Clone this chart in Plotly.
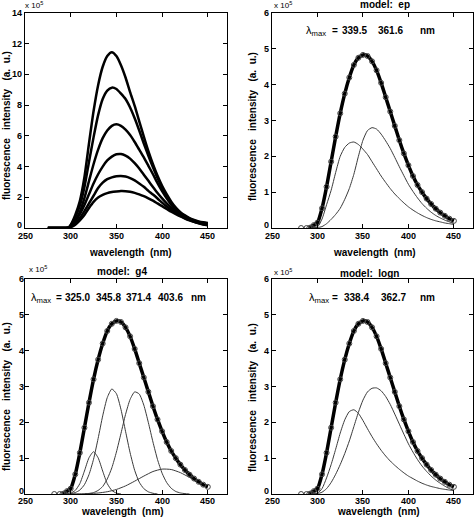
import plotly.graph_objects as go

W, H = 474, 522
FONT = "Liberation Sans, Arial, sans-serif"

# ---------------- Panel 1: six emission spectra ----------------
wl_p1 = [275, 280, 285, 290, 295, 298, 300, 305, 310, 315, 320, 325, 330, 335, 340, 345,
         350, 355, 360, 365, 370, 375, 380, 385, 390, 395, 400, 405, 410, 415, 420, 425,
         430, 435, 440, 445, 450]
spec1 = [0, 0, 0, 0, 0, 0.05, 0.2,
         0.85, 1.75, 3.3, 5.5, 7.6, 9.3, 10.5, 11.2, 11.45, 11.2,
         10.6, 9.8, 8.85, 7.95, 6.95, 5.95, 5.0, 4.15, 3.4, 2.75,
         2.2, 1.72, 1.33, 1.03, 0.82, 0.65, 0.52, 0.43, 0.37, 0.33]
spec2 = [0, 0, 0, 0, 0, 0.04, 0.18,
         0.7, 1.45, 2.65, 4.3, 5.9, 7.35, 8.4, 8.95, 9.14, 9.05,
         8.75, 8.4, 7.85, 7.15, 6.35, 5.5, 4.7, 3.95, 3.25, 2.62,
         2.08, 1.63, 1.26, 0.98, 0.77, 0.61, 0.49, 0.4, 0.34, 0.3]
spec3 = [0, 0, 0, 0, 0, 0.03, 0.12,
         0.5, 1.05, 1.95, 3.05, 4.15, 5.1, 5.85, 6.35, 6.65, 6.75,
         6.65, 6.4, 6.05, 5.6, 5.1, 4.6, 4.05, 3.5, 2.92, 2.4,
         1.93, 1.52, 1.19, 0.93, 0.73, 0.57, 0.45, 0.37, 0.31, 0.26]
spec4 = [0, 0, 0, 0, 0, 0.02, 0.1,
         0.45, 0.9, 1.5, 2.2, 2.9, 3.5, 4.0, 4.4, 4.65, 4.8,
         4.82, 4.72, 4.52, 4.22, 3.87, 3.47, 3.07, 2.67, 2.28, 1.93,
         1.61, 1.33, 1.09, 0.88, 0.7, 0.56, 0.44, 0.35, 0.28, 0.22]
spec5 = [0, 0, 0, 0, 0, 0.01, 0.07,
         0.3, 0.65, 1.1, 1.6, 2.1, 2.6, 2.95, 3.18, 3.3, 3.37,
         3.39, 3.35, 3.25, 3.1, 2.9, 2.68, 2.42, 2.18, 1.92, 1.65,
         1.4, 1.18, 0.98, 0.8, 0.65, 0.52, 0.41, 0.32, 0.25, 0.19]
spec6 = [0, 0, 0, 0, 0, 0.01, 0.05,
         0.22, 0.5, 0.85, 1.3, 1.7, 1.98, 2.15, 2.27, 2.34, 2.38,
         2.41, 2.4, 2.36, 2.29, 2.19, 2.07, 1.93, 1.78, 1.6, 1.42,
         1.24, 1.06, 0.9, 0.75, 0.62, 0.5, 0.4, 0.31, 0.23, 0.17]
spectra_p1 = [spec1, spec2, spec3, spec4, spec5, spec6]

# ---------------- Measured spectrum (panels 2-4) ----------------
wl_data = [282, 288, 291, 293, 296, 300, 305, 310, 315, 320, 325, 330, 335, 340, 345, 350,
           355, 360, 365, 370, 375, 380, 385, 390, 395, 400, 405, 410, 415, 420, 425, 430,
           435, 440, 445, 450]
data = [0, 0, 0, 0.02, 0.08, 0.15,
        0.55, 1.15, 1.85, 2.55, 3.2, 3.75, 4.2, 4.55, 4.75, 4.83,
        4.8, 4.65, 4.4, 4.05, 3.65, 3.25, 2.85, 2.45, 2.08, 1.75,
        1.45, 1.2, 1.0, 0.82, 0.67, 0.54, 0.43, 0.34, 0.26, 0.2]

# ---------------- Components ----------------
wl_c = [295, 300, 305, 310, 315, 320, 325, 330, 335, 340, 345, 350, 355, 360, 365, 370,
        375, 380, 385, 390, 395, 400, 405, 410, 415, 420, 425, 430, 435, 440, 445, 450]
ep_1 = [0, 0.03, 0.25, 0.65, 1.05, 1.55, 2.0, 2.25, 2.37, 2.4, 2.33, 2.2,
        2.05, 1.85, 1.65, 1.45, 1.27, 1.1, 0.95, 0.82, 0.7, 0.59,
        0.5, 0.42, 0.35, 0.29, 0.24, 0.2, 0.17, 0.14, 0.12, 0.1]
ep_2 = [0, 0.01, 0.04, 0.12, 0.24, 0.38, 0.55, 0.8, 1.1, 1.5, 2.0, 2.45,
        2.72, 2.8, 2.76, 2.62, 2.43, 2.22, 1.97, 1.71, 1.46, 1.22,
        1.02, 0.84, 0.68, 0.55, 0.44, 0.35, 0.28, 0.22, 0.17, 0.13]
logn_1 = [0, 0.02, 0.15, 0.45, 0.82, 1.25, 1.7, 2.07, 2.3, 2.35, 2.25, 2.05,
          1.82, 1.6, 1.4, 1.22, 1.06, 0.92, 0.8, 0.69, 0.59, 0.5,
          0.43, 0.36, 0.3, 0.25, 0.21, 0.18, 0.15, 0.13, 0.11, 0.1]
logn_2 = [0, 0.01, 0.05, 0.15, 0.32, 0.55, 0.82, 1.13, 1.48, 1.88, 2.28, 2.62,
          2.85, 2.95, 2.96, 2.88, 2.72, 2.5, 2.23, 1.95, 1.67, 1.4,
          1.17, 0.96, 0.78, 0.63, 0.5, 0.39, 0.3, 0.22, 0.15, 0.1]

wl_g1 = [295, 300, 305, 310, 315, 320, 325, 330, 335, 340, 345, 350, 355]
g4_1 = [0, 0.025, 0.10, 0.29, 0.64, 1.01, 1.18, 1.01, 0.64, 0.29, 0.10, 0.025, 0]
wl_g2 = [300, 305, 310, 315, 320, 325, 330, 335, 340, 345, 350, 355, 360, 365, 370,
         375, 380, 385, 390, 395]
g4_2 = [0.01, 0.04, 0.11, 0.26, 0.54, 0.97, 1.55, 2.18, 2.69, 2.93, 2.80, 2.36, 1.75,
        1.15, 0.66, 0.33, 0.15, 0.06, 0.02, 0.0]
wl_g3 = [315, 320, 325, 330, 335, 340, 345, 350, 355, 360, 365, 370, 375, 380, 385,
         390, 395, 400, 405, 410, 415, 420, 425, 430]
g4_3 = [0.005, 0.016, 0.04, 0.10, 0.21, 0.42, 0.73, 1.17, 1.69, 2.22, 2.64, 2.85, 2.79,
        2.48, 1.99, 1.45, 0.96, 0.58, 0.32, 0.16, 0.07, 0.03, 0.01, 0]
wl_g4 = [300, 310, 320, 330, 340, 350, 360, 370, 380, 390, 400, 410, 420, 430, 440, 450]
g4_4 = [0.004, 0.006, 0.011, 0.028, 0.063, 0.127, 0.226, 0.358, 0.50, 0.627, 0.695,
        0.683, 0.596, 0.463, 0.318, 0.195]

x_ticks = [250, 300, 350, 400, 450]
y_ticks_p1 = [0, 2, 4, 6, 8, 10, 12, 14]
y_ticks_fit = [0, 1, 2, 3, 4, 5, 6]
models = ["ep", "g4", "logn"]
lmax_ep = ["339.5", "361.6"]
lmax_g4 = ["325.0", "345.8", "371.4", "403.6"]
lmax_logn = ["338.4", "362.7"]

fig = go.Figure()

def px_x(p):
    return p / W

def px_y(p):
    return 1 - p / H

# panel 1 spectra
for s in spectra_p1:
    fig.add_trace(go.Scatter(x=wl_p1, y=s, mode="lines", xaxis="x", yaxis="y",
                             line=dict(color="black", width=2.5, shape="spline", smoothing=0.6),
                             showlegend=False, hoverinfo="skip"))

def add_fit_panel(xa, ya, comps):
    for wl, vals in comps:
        fig.add_trace(go.Scatter(x=wl, y=vals, mode="lines", xaxis=xa, yaxis=ya,
                                 line=dict(color="#3a3a3a", width=1, shape="spline", smoothing=0.6),
                                 showlegend=False, hoverinfo="skip"))
    fig.add_trace(go.Scatter(x=wl_data[2:], y=data[2:], mode="lines", xaxis=xa, yaxis=ya,
                             line=dict(color="black", width=3.5, shape="spline", smoothing=0.6),
                             showlegend=False, hoverinfo="skip"))
    fig.add_trace(go.Scatter(x=wl_data, y=data, mode="markers", xaxis=xa, yaxis=ya,
                             marker=dict(symbol="circle-open", size=5, color="#444444",
                                         line=dict(width=1)),
                             showlegend=False, hoverinfo="skip"))

add_fit_panel("x2", "y2", [(wl_c, ep_1), (wl_c, ep_2)])
add_fit_panel("x3", "y3", [(wl_g1, g4_1), (wl_g2, g4_2), (wl_g3, g4_3), (wl_g4, g4_4)])
add_fit_panel("x4", "y4", [(wl_c, logn_1), (wl_c, logn_2)])

TICKFONT = dict(size=9, color="black", family=FONT, weight="bold")

def xax(dom, anchor):
    return dict(domain=dom, anchor=anchor, range=[250, 471], tickvals=x_ticks,
                showticklabels=False,
                showline=True, linecolor="black", linewidth=1, mirror="ticks",
                ticks="inside", ticklen=4, tickcolor="black", showgrid=False, zeroline=False)

def yax(dom, anchor, top, vals):
    return dict(domain=dom, anchor=anchor, range=[0, top], tickvals=vals,
                showticklabels=False,
                showline=True, linecolor="black", linewidth=1, mirror="ticks",
                ticks="inside", ticklen=4, tickcolor="black", showgrid=False, zeroline=False)

top_y = [px_y(228), px_y(13)]
bot_y = [px_y(494), px_y(279)]
left_x = [px_x(25), px_x(227)]
right_x = [px_x(272), px_x(473)]

annotations = []

def ann(text, x, y, size=10, angle=0, xanchor="center", bold=True):
    f = dict(size=size, color="black", family=FONT)
    if bold:
        f["weight"] = "bold"
    annotations.append(dict(text=text, x=px_x(x), y=px_y(y), xref="paper", yref="paper",
                            showarrow=False, xanchor=xanchor, yanchor="middle",
                            textangle=angle, font=f))

# x tick labels placed via the axes' own data scale
for xa, ypix in [("x", 236), ("x2", 236), ("x3", 501), ("x4", 501)]:
    for t in x_ticks:
        annotations.append(dict(text=str(t), x=t, xref=xa, y=px_y(ypix), yref="paper",
                                showarrow=False, xanchor="center", yanchor="middle",
                                font=TICKFONT))

# y tick labels placed via the axes' own data scale
for ya, xpix, vals in [("y", 24, y_ticks_p1), ("y2", 271, y_ticks_fit),
                       ("y3", 26, y_ticks_fit), ("y4", 271, y_ticks_fit)]:
    for v in vals:
        annotations.append(dict(text=str(v), y=v, yref=ya, x=px_x(xpix), xref="paper",
                                showarrow=False, xanchor="right", yanchor="middle",
                                yshift=3 if v == 0 else 0, font=TICKFONT))

NB = "\u00a0"
ytitle = "fluorescence" + NB * 3 + "intensity" + NB * 3 + "(a." + NB + " u.)"
xtitle = "wavelength" + NB * 2 + "(nm)"

# exponent labels
for (x, y) in [(34, 5), (283, 5), (38, 269), (283, 272)]:
    ann("x 10<sup>5</sup>", x, y, size=8, bold=False)

# axis titles
for (x, y) in [(6, 126), (252, 126), (6, 397), (252, 397)]:
    ann(ytitle, x, y, size=10, angle=-90)
for (x, y) in [(130, 252), (374, 252), (122, 511), (378, 511)]:
    ann(xtitle, x, y, size=10)

# model titles
ann("model:" + NB * 2 + models[0], 385, 5, size=10)
ann("model:" + NB * 2 + models[1], 122, 271, size=10)
ann("model:" + NB * 2 + models[2], 369, 273, size=10)

# lambda max annotations
lam = "λ<sub>max</sub>"
ann(lam, 304, 31, size=11, xanchor="left", bold=False)
ann("=", 335, 30)
ann(lmax_ep[0], 354, 30)
ann(lmax_ep[1], 390, 30)
ann("nm", 427, 30)

ann(lam, 29, 298, size=11, xanchor="left", bold=False)
ann("=", 59, 297)
for xv, t in zip([77, 108, 138, 170], lmax_g4):
    ann(t, xv, 297)
ann("nm", 198, 297)

ann(lam, 307, 298, size=11, xanchor="left", bold=False)
ann("=", 335, 297)
ann(lmax_logn[0], 356, 297)
ann(lmax_logn[1], 393, 297)
ann("nm", 427, 297)

fig.update_layout(
    width=W, height=H, margin=dict(l=0, r=0, t=0, b=0),
    paper_bgcolor="white", plot_bgcolor="white",
    font=dict(family=FONT, color="black"),
    xaxis=xax(left_x, "y"), yaxis=yax(top_y, "x", 14, y_ticks_p1),
    xaxis2=xax(right_x, "y2"), yaxis2=yax(top_y, "x2", 6, y_ticks_fit),
    xaxis3=xax(left_x, "y3"), yaxis3=yax(bot_y, "x3", 6, y_ticks_fit),
    xaxis4=xax(right_x, "y4"), yaxis4=yax(bot_y, "x4", 6, y_ticks_fit),
    annotations=annotations,
)

fig.write_html("out.html", config={"displayModeBar": False, "staticPlot": True},
               post_script="document.body.style.margin='0';document.body.style.padding='0';"
                           "document.body.style.overflow='hidden';")
